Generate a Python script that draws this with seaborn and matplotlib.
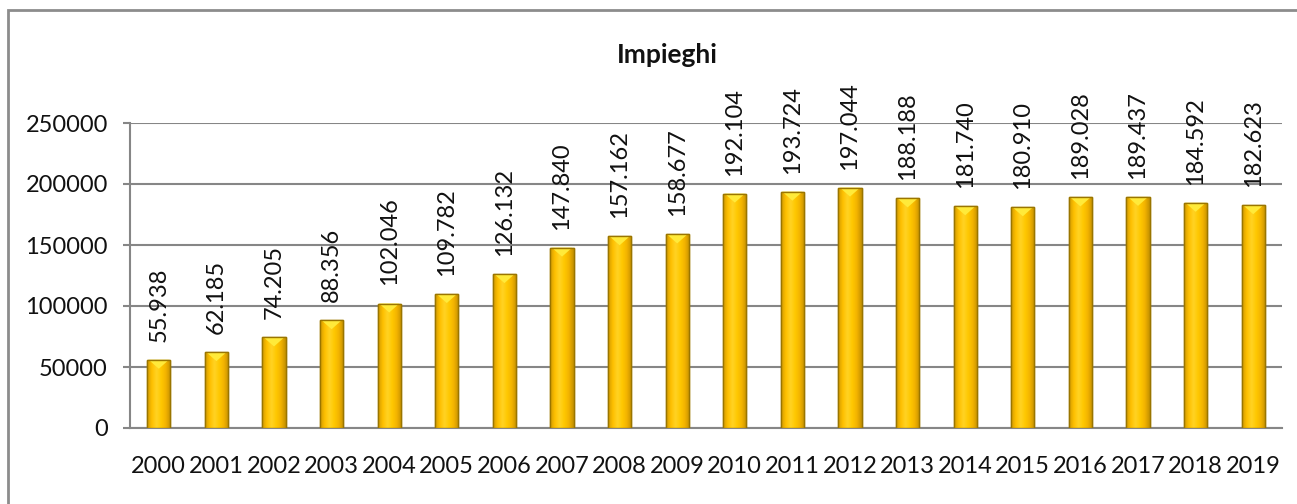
import numpy as np
import seaborn as sns
import matplotlib.pyplot as plt
from matplotlib.colors import LinearSegmentedColormap
from matplotlib.patches import Rectangle, Polygon

# Data
years = ["2000", "2001", "2002", "2003", "2004", "2005", "2006", "2007", "2008", "2009",
         "2010", "2011", "2012", "2013", "2014", "2015", "2016", "2017", "2018", "2019"]
impieghi = [55938, 62185, 74205, 88356, 102046, 109782, 126132, 147840, 157162, 158677,
            192104, 193724, 197044, 188188, 181740, 180910, 189028, 189437, 184592, 182623]
y_ticks = [0, 50000, 100000, 150000, 200000, 250000]
title = "Impieghi"

sns.set_style("white")
plt.rcParams['font.family'] = ['Lato', 'DejaVu Sans']

fig = plt.figure(figsize=(12.97, 5.04), dpi=100)
ax = fig.add_axes([130/1297, 76/504, 1152/1297, 305/504])

sns.barplot(x=years, y=impieghi, color="#FFC000", width=0.4, saturation=1,
            edgecolor="#A88000", linewidth=1, ax=ax, zorder=3)

# cylinder-like gradient + bevel on each bar
gold = LinearSegmentedColormap.from_list(
    "gold", ["#D19A00", "#FFC000", "#FFD324", "#FFC800", "#F2B200", "#C39000"])
grad = np.linspace(0, 1, 64).reshape(1, -1)
bevel_h = 250000 * 9 / 305
for p in list(ax.patches):
    x0, w, h = p.get_x(), p.get_width(), p.get_height()
    im = ax.imshow(grad, extent=[x0, x0 + w, 0, h], aspect="auto", cmap=gold,
                   zorder=3.1, interpolation="bicubic")
    im.set_clip_path(p)
    tri = Polygon([[x0 + 0.06 * w, h], [x0 + 0.94 * w, h], [x0 + w / 2, h - bevel_h]],
                  closed=True, fc="#FFEA3A", ec="none", zorder=3.2)
    ax.add_patch(tri)
    ax.add_patch(Rectangle((x0, 0), w, h, fill=False, ec="#9A7500", lw=1, zorder=3.3))

# value labels
for i, v in enumerate(impieghi):
    ax.annotate(f"{v:,}".replace(",", "."), xy=(i, v), xytext=(0, 13),
                textcoords="offset points", rotation=90, ha="center", va="bottom",
                fontsize=17, color="#111111")

ax.set_xlim(-0.5, len(years) - 0.5)
ax.set_ylim(0, 250000)
ax.set_yticks(y_ticks)
ax.set_yticklabels([str(t) for t in y_ticks])
ax.set_xticks(range(len(years)))
ax.set_xticklabels(years)
ax.set_xticks(np.arange(-0.5, len(years), 1), minor=True)
ax.tick_params(axis="x", which="major", length=0, pad=20, labelsize=17, labelcolor="#111111")
ax.tick_params(axis="x", which="minor", length=5, width=1.5, color="#868686", direction="out")
ax.tick_params(axis="y", length=5, width=1.5, color="#868686", pad=11, labelsize=17,
               labelcolor="#111111", left=True)
ax.yaxis.grid(True, color="#868686", lw=1.5)
ax.set_axisbelow(True)
for s in ["top", "right"]:
    ax.spines[s].set_visible(False)
for s in ["left", "bottom"]:
    ax.spines[s].set_color("#868686")
    ax.spines[s].set_linewidth(1.5)
ax.set_xlabel("")
ax.set_ylabel("")

fig.text(667.5/1297, 1 - 55/504, title, ha="center", va="center",
         fontsize=19, fontweight="bold", color="#111111")

# outer chart border (cut off at right and bottom)
fig.add_artist(Rectangle((8/1297, -0.2), 1.5, (494/504) + 0.2, transform=fig.transFigure,
                         fill=False, ec="#8c8c8c", lw=2))

fig.savefig("out.png", dpi=100)
